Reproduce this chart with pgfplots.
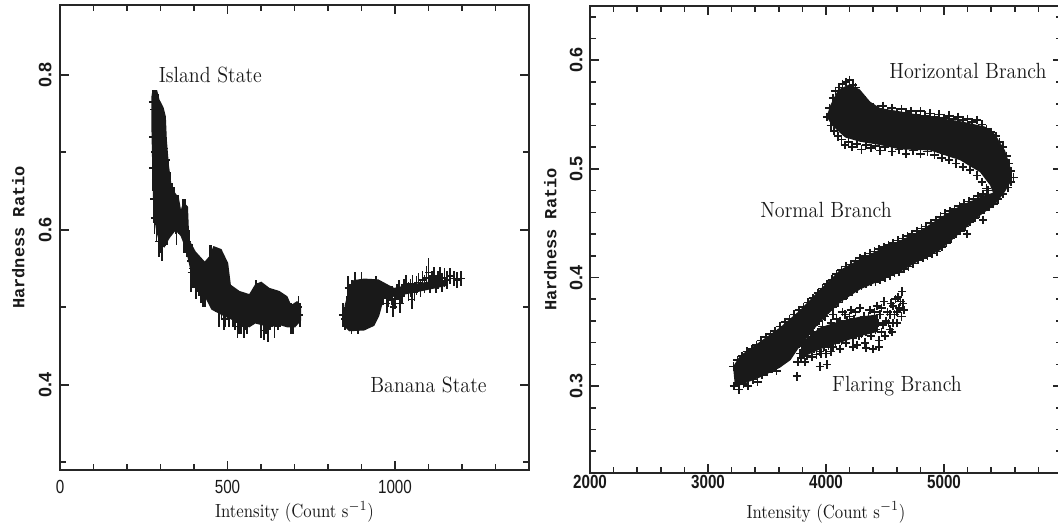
\documentclass[border=0pt]{standalone}
\usepackage{fontspec}
\usepackage{graphicx}
\usepackage{pgfplots}
\pgfplotsset{compat=1.18}
\newfontfamily\tsans{Liberation Sans}
\newfontfamily\tmono{Liberation Mono}
\newcommand\xt[1]{\scalebox{0.8}[1]{#1}}
\newcommand\ann[1]{\scalebox{0.91}[1]{#1}}
\tikzset{annot/.style={anchor=base, inner sep=0pt, font=\fontsize{11}{12}\selectfont, text=black!90}}
\pgfplotsset{hr/.style={
  scale only axis,
  axis line style={line width=0.8pt, black!85},
  tick style={line width=0.8pt, black!85},
  major tick length=4.5pt, minor tick length=3pt,
  tick align=inside,
  xticklabel style={font=\tsans\fontsize{9.5}{10}\selectfont, anchor=north, inner sep=0pt, text=black!90},
  yticklabel style={font=\tsans\bfseries\fontsize{9}{10}\selectfont, rotate=90, anchor=south, inner sep=0pt, text=black!90},
  xlabel style={font=\fontsize{9.5}{11}\selectfont, anchor=base, inner sep=0pt, text=black!90},
  ylabel style={font=\tmono\bfseries\fontsize{8.5}{10}\selectfont, anchor=south, inner sep=0pt, text=black!90},
}}
\begin{document}
\begin{tikzpicture}
% ---------------- left panel ----------------
\begin{axis}[hr, at={(0,0)}, anchor=south west, width=234.5pt, height=232.5pt,
  xmin=0, xmax=1400, ymin=0.29, ymax=0.89,
  xtick={0,500,1000}, xticklabels={\xt{0},\xt{500},\xt{1000}},
  minor xtick={100,200,300,400,600,700,800,900,1100,1200,1300},
  ytick={0.4,0.6,0.8}, yticklabels={0.4,0.6,0.8},
  minor ytick={0.3,0.5,0.7},
  xticklabel shift=5pt, yticklabel shift=4pt,
  xlabel={\scalebox{0.88}[1]{Intensity (Count s$^{-1}$)}},
  ylabel={Hardness Ratio},
  xlabel style={at={(axis description cs:0.5,-0.1032)}},
  ylabel style={at={(axis description cs:-0.0746,0.5)}},
]
\addplot[draw=none, fill=black!90] coordinates {
(276,0.780) (290,0.780) (297,0.768) (309,0.758) (316,0.746) (319,0.716) (325,0.684)
(334,0.654) (345,0.647) (355,0.641) (361,0.626) (368,0.636) (382,0.630) (386,0.587)
(405,0.572) (432,0.559) (446,0.566) (458,0.579) (482,0.575) (502,0.557) (510,0.529)
(536,0.521) (565,0.517) (583,0.530) (601,0.533) (625,0.525) (655,0.521) (679,0.514)
(690,0.503) (708,0.508) (720,0.501) (720,0.483) (702,0.474) (679,0.474) (655,0.477)
(625,0.474) (601,0.477) (583,0.479) (565,0.474) (536,0.479) (512,0.484) (482,0.490)
(452,0.497) (434,0.512) (405,0.525) (388,0.550) (376,0.574) (360,0.592) (345,0.599)
(327,0.589) (312,0.577) (298,0.580) (287,0.599) (279,0.621) (276,0.665) (273,0.729)
(273,0.772) (276,0.780)};
\addplot[draw=none, fill=black!90] coordinates {
(845,0.477) (850,0.503) (861,0.521) (876,0.535) (908,0.537) (950,0.536) (997,0.525)
(1042,0.529) (1086,0.532) (1131,0.535) (1158,0.535) (1158,0.528) (1116,0.524)
(1071,0.520) (1012,0.515) (967,0.511) (953,0.489) (938,0.476) (908,0.470) (863,0.469)
(845,0.477)};
\addplot[only marks, mark=+, mark size=1.8pt, black!90, line width=0.8pt,
  error bars/.cd, y dir=both, y explicit, error mark=none,
  error bar style={line width=0.9pt, black!90}]
  table[x=x, y=y, y error=e] {
x y e
276 0.765 0.015
280 0.755 0.020
286 0.745 0.020
292 0.760 0.015
296 0.730 0.025
300 0.720 0.020
277 0.720 0.025
283 0.700 0.030
290 0.710 0.020
305 0.700 0.020
312 0.705 0.025
318 0.690 0.020
276 0.680 0.030
285 0.665 0.030
295 0.670 0.025
310 0.665 0.025
322 0.670 0.020
328 0.655 0.020
280 0.640 0.030
290 0.630 0.030
300 0.640 0.025
315 0.635 0.030
330 0.625 0.025
335 0.640 0.020
288 0.610 0.025
298 0.600 0.030
310 0.605 0.025
320 0.600 0.020
295 0.585 0.020
305 0.580 0.020
282 0.615 0.020
340 0.635 0.020
346 0.620 0.025
352 0.625 0.020
356 0.610 0.015
348 0.600 0.020
366 0.615 0.025
370 0.600 0.030
376 0.595 0.025
380 0.585 0.020
385 0.580 0.020
372 0.620 0.020
390 0.560 0.020
396 0.550 0.025
402 0.545 0.020
408 0.540 0.020
414 0.535 0.020
420 0.525 0.020
428 0.520 0.020
434 0.515 0.015
392 0.545 0.025
405 0.530 0.020
448 0.560 0.020
452 0.555 0.025
458 0.550 0.020
462 0.540 0.025
466 0.530 0.020
470 0.520 0.025
476 0.510 0.020
482 0.505 0.020
488 0.500 0.020
494 0.495 0.020
500 0.500 0.015
504 0.490 0.015
460 0.520 0.020
474 0.495 0.020
490 0.485 0.015
510 0.505 0.020
516 0.495 0.020
522 0.490 0.020
528 0.500 0.020
534 0.490 0.025
540 0.485 0.020
546 0.495 0.020
552 0.490 0.020
558 0.485 0.020
564 0.495 0.020
568 0.500 0.015
530 0.475 0.015
550 0.475 0.015
520 0.510 0.015
584 0.515 0.020
590 0.505 0.025
596 0.510 0.020
602 0.500 0.020
608 0.495 0.020
614 0.490 0.025
620 0.495 0.020
626 0.490 0.020
632 0.495 0.020
638 0.500 0.020
644 0.495 0.020
650 0.490 0.020
656 0.495 0.020
662 0.500 0.015
668 0.495 0.015
674 0.490 0.015
600 0.480 0.020
620 0.475 0.020
640 0.480 0.020
610 0.470 0.012
684 0.490 0.015
690 0.485 0.020
696 0.480 0.015
712 0.500 0.015
716 0.490 0.015
845 0.490 0.015
850 0.485 0.015
855 0.495 0.020
860 0.505 0.020
866 0.510 0.020
872 0.515 0.020
878 0.505 0.020
884 0.510 0.020
890 0.500 0.020
896 0.510 0.020
902 0.515 0.020
908 0.505 0.020
914 0.510 0.020
920 0.515 0.020
926 0.520 0.015
932 0.515 0.015
938 0.520 0.015
944 0.525 0.015
950 0.520 0.015
870 0.485 0.020
890 0.480 0.015
910 0.490 0.015
880 0.530 0.015
900 0.530 0.015
860 0.525 0.015
958 0.520 0.010
965 0.515 0.012
972 0.520 0.010
978 0.512 0.012
985 0.518 0.010
992 0.515 0.012
1000 0.510 0.012
1005 0.520 0.010
1012 0.523 0.012
1020 0.518 0.012
1028 0.525 0.012
1034 0.530 0.012
1040 0.520 0.012
1046 0.525 0.012
1052 0.530 0.012
1058 0.520 0.012
1064 0.528 0.012
1070 0.532 0.012
1076 0.525 0.012
1082 0.535 0.012
1088 0.530 0.012
1094 0.538 0.015
1100 0.545 0.018
1104 0.530 0.012
1110 0.535 0.012
1116 0.540 0.012
1122 0.530 0.012
1128 0.535 0.012
1134 0.540 0.012
1140 0.532 0.012
1148 0.538 0.012
1156 0.535 0.012
1165 0.540 0.010
1175 0.537 0.010
1185 0.535 0.010
1198 0.537 0.010
975 0.505 0.012
995 0.500 0.012
1015 0.505 0.012
1050 0.510 0.012
};
\node[annot] at (axis cs:449,0.790) {\ann{Island State}};
\node[annot] at (axis cs:1100,0.390) {\ann{Banana State}};
\end{axis}
% ---------------- right panel ----------------
\begin{axis}[hr, at={(265pt,-1.5pt)}, anchor=south west, width=236pt, height=233.5pt,
  xmin=2000, xmax=6000, ymin=0.22, ymax=0.65,
  xtick={2000,3000,4000,5000},
  xticklabels={\xt{\bfseries 2000},\xt{\bfseries 3000},\xt{\bfseries 4000},\xt{\bfseries 5000}},
  minor xtick={2200,2400,2600,2800,3200,3400,3600,3800,4200,4400,4600,4800,5200,5400,5600,5800},
  ytick={0.3,0.4,0.5,0.6}, yticklabels={0.3,0.4,0.5,0.6},
  minor ytick={0.24,0.26,0.28,0.32,0.34,0.36,0.38,0.42,0.44,0.46,0.48,0.52,0.54,0.56,0.58,0.62,0.64},
  xticklabel shift=1pt, yticklabel shift=3.5pt,
  xlabel={\scalebox{0.88}[1]{Intensity (Count s$^{-1}$)}},
  ylabel={Hardness Ratio},
  xlabel style={at={(axis description cs:0.5,-0.0964)}},
  ylabel style={at={(axis description cs:-0.0699,0.5)}},
]
\addplot[draw=none, fill=black!90] coordinates {
(3229,0.299) (3441,0.308) (3610,0.317) (3700,0.324) (3780,0.337) (3949,0.359)
(4119,0.377) (4288,0.389) (4458,0.397) (4627,0.405) (4797,0.416) (4966,0.425)
(5136,0.441) (5305,0.457) (5432,0.467) (5517,0.479) (5576,0.490) (5576,0.497)
(5517,0.517) (5432,0.532) (5347,0.539) (5136,0.544) (4881,0.548) (4627,0.553)
(4458,0.556) (4373,0.562) (4288,0.573) (4203,0.578) (4102,0.573) (4034,0.558)
(4005,0.548) (4051,0.540) (4161,0.529) (4288,0.525) (4458,0.522) (4627,0.518)
(4881,0.517) (5136,0.508) (5305,0.497) (5390,0.485) (5415,0.478) (5347,0.476)
(5136,0.466) (4966,0.455) (4797,0.443) (4627,0.434) (4458,0.426) (4288,0.417)
(4119,0.407) (3949,0.389) (3780,0.370) (3610,0.354) (3441,0.341) (3271,0.328)
(3212,0.318) (3229,0.299)};
\addplot[draw=none, fill=black!90] coordinates {
(3790,0.326) (3950,0.334) (4120,0.340) (4290,0.346) (4440,0.350) (4440,0.366)
(4290,0.364) (4120,0.360) (3950,0.354) (3790,0.340) (3790,0.326)};
\addplot[only marks, mark=+, mark size=2.1pt, black!90, line width=0.85pt] coordinates {
(4008,0.548) (4030,0.556) (4060,0.565) (4080,0.572) (4110,0.575) (4140,0.578)
(4170,0.580) (4200,0.582) (4230,0.577) (4250,0.575) (4270,0.570) (4300,0.566)
(4330,0.562) (4360,0.560) (4400,0.557) (4440,0.555) (4480,0.558) (4520,0.553)
(4560,0.556) (4600,0.552) (4640,0.555) (4680,0.552) (4720,0.553) (4760,0.550)
(4800,0.553) (4840,0.549) (4880,0.551) (4920,0.548) (4960,0.550) (5000,0.547)
(5040,0.549) (5080,0.546) (5120,0.548) (5160,0.545) (5200,0.546) (5240,0.543)
(5280,0.545) (5320,0.541) (5360,0.537) (5400,0.534) (5440,0.530) (5470,0.525)
(5500,0.520) (5530,0.512) (5550,0.505) (5570,0.498) (5590,0.492)
(4040,0.540) (4070,0.535) (4100,0.530) (4130,0.527) (4160,0.522) (4190,0.525)
(4220,0.520) (4260,0.523) (4300,0.518) (4340,0.522) (4380,0.519) (4420,0.521)
(4460,0.517) (4500,0.520) (4560,0.516) (4620,0.518) (4680,0.514) (4740,0.517)
(4800,0.514) (4860,0.516) (4920,0.513) (4980,0.510) (5040,0.508) (5100,0.505)
(5160,0.502) (5220,0.499) (5280,0.494) (5320,0.488) (5360,0.482)
(3220,0.300) (3260,0.297) (3300,0.302) (3340,0.300) (3380,0.306) (3420,0.304)
(3460,0.310) (3500,0.313) (3540,0.316) (3580,0.314) (3620,0.322) (3660,0.326)
(3700,0.331) (3740,0.336) (3780,0.340) (3820,0.346) (3860,0.351) (3900,0.356)
(3940,0.360) (3980,0.365) (4020,0.370) (4060,0.373) (4100,0.377) (4140,0.380)
(4180,0.384) (4220,0.387) (4260,0.390) (4300,0.392) (4340,0.394) (4380,0.396)
(4420,0.396) (4460,0.398) (4500,0.400) (4540,0.402) (4580,0.404) (4620,0.405)
(4660,0.408) (4700,0.410) (4740,0.413) (4780,0.416) (4820,0.418) (4860,0.420)
(4900,0.422) (4940,0.424) (4980,0.428) (5020,0.432) (5060,0.436) (5100,0.440)
(5140,0.443) (5180,0.447) (5220,0.451) (5260,0.455) (5300,0.459) (5340,0.462)
(5380,0.465) (5420,0.468) (5460,0.472) (5500,0.477) (5540,0.483) (5570,0.488)
(5330,0.453) (5195,0.440)
(3215,0.318) (3250,0.324) (3290,0.328) (3330,0.332) (3370,0.334) (3410,0.338)
(3450,0.342) (3490,0.345) (3530,0.348) (3570,0.351) (3610,0.355) (3650,0.359)
(3690,0.362) (3730,0.366) (3770,0.370) (3810,0.373) (3850,0.377) (3890,0.381)
(3930,0.386) (3970,0.390) (4010,0.394) (4050,0.398) (4090,0.403) (4130,0.407)
(4170,0.410) (4210,0.412) (4250,0.415) (4290,0.418) (4330,0.420) (4370,0.422)
(4410,0.424) (4450,0.426) (4490,0.428) (4530,0.430) (4570,0.432) (4610,0.434)
(4650,0.436) (4690,0.438) (4730,0.440) (4770,0.443) (4810,0.445) (4850,0.447)
(4890,0.450) (4930,0.453) (4970,0.456) (5010,0.459) (5050,0.461) (5090,0.463)
(5130,0.466) (5170,0.468) (5210,0.470) (5250,0.472) (5290,0.475) (5330,0.477)
(5370,0.480)
(3780,0.330) (3800,0.338) (3830,0.334) (3850,0.342) (3870,0.336) (3890,0.345)
(3910,0.340) (3930,0.350) (3950,0.332) (3950,0.345) (3970,0.355) (3990,0.340)
(4000,0.350) (4010,0.320) (3949,0.318) (4030,0.345) (4040,0.358) (4060,0.336)
(4070,0.352) (4090,0.362) (4100,0.344) (4120,0.334) (4130,0.356) (4140,0.368)
(4150,0.346) (4170,0.340) (4180,0.360) (4200,0.352) (4210,0.370) (4230,0.344)
(4240,0.362) (4260,0.338) (4270,0.356) (4290,0.372) (4300,0.348) (4320,0.364)
(4330,0.340) (4350,0.356) (4370,0.370) (4380,0.346) (4400,0.334) (4400,0.362)
(4420,0.352) (4430,0.374) (4450,0.342) (4460,0.366) (4480,0.356) (4490,0.378)
(4500,0.346) (4520,0.368) (4530,0.358) (4550,0.376) (4560,0.350) (4580,0.366)
(4590,0.380) (4600,0.358) (4620,0.372) (4640,0.364) (4650,0.376) (4644,0.387)
(4610,0.382) (3754,0.309)
(3760,0.322) (3790,0.326) (3810,0.331) (3820,0.322) (3840,0.328) (3860,0.333)
(3880,0.327) (3900,0.334) (3920,0.329) (3940,0.338) (3960,0.330) (3980,0.336)
(4000,0.330) (4020,0.337) (4040,0.332) (4050,0.345) (4080,0.340) (4110,0.350)
(4120,0.360) (4150,0.355) (4160,0.366) (4190,0.348) (4200,0.364) (4220,0.356)
(4250,0.350) (4250,0.368) (4280,0.346) (4310,0.356) (4340,0.350) (4360,0.364)
(4390,0.356) (4410,0.368) (4440,0.358) (4470,0.350) (4470,0.372) (4510,0.360)
(4540,0.366) (4570,0.358) (4570,0.374) (4600,0.368) (4630,0.378) (4660,0.370)
(4540,0.352) (4450,0.336) (4340,0.335) (4230,0.336) (4130,0.342) (3870,0.350)
(3900,0.360) (3840,0.352) (3990,0.364) (4060,0.366)
};
\node[annot] at (axis cs:5203,0.5835) {\ann{Horizontal Branch}};
\node[annot] at (axis cs:4000,0.455) {\ann{Normal Branch}};
\node[annot] at (axis cs:4602,0.2946) {\ann{Flaring Branch}};
\end{axis}
\pgfresetboundingbox
\path[use as bounding box] (-30pt,-26.5pt) rectangle (499pt,235pt);
\end{tikzpicture}
\end{document}
